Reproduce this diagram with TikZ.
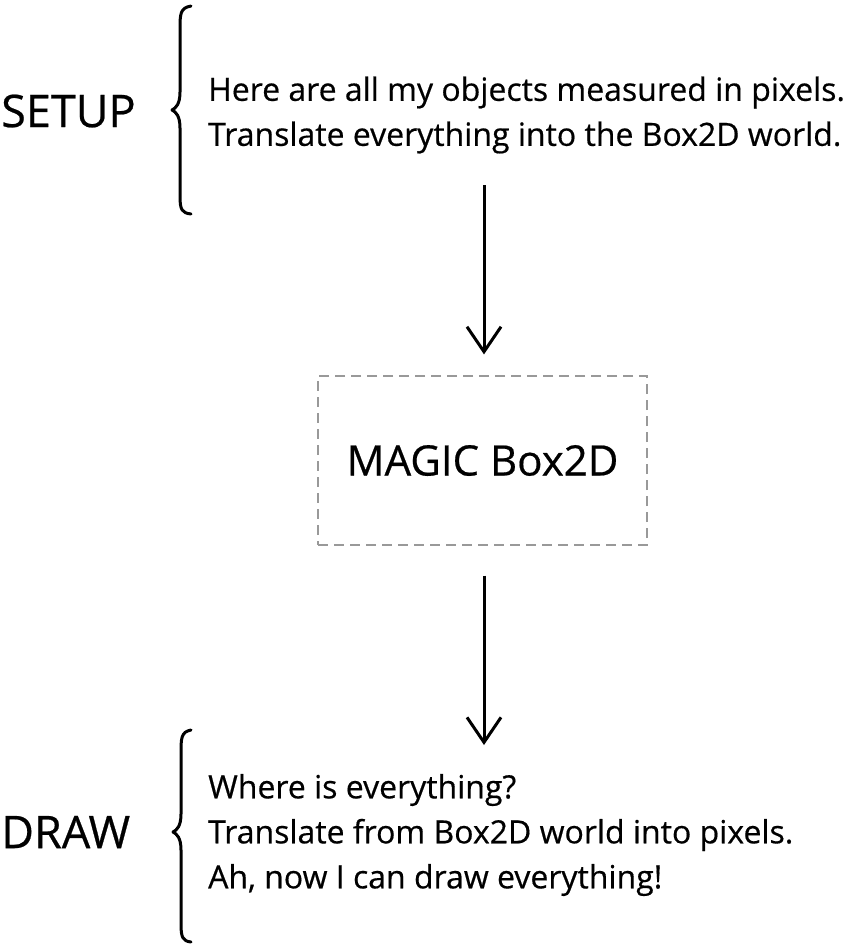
\documentclass[tikz,border=0pt]{standalone}
\usepackage{fontspec}
\setmainfont{Open Sans}[FakeBold=0.5]
\usetikzlibrary{arrows.meta}
\tikzset{
  textNode/.style = {align=left, inner sep=0pt, anchor=west},
  %section labels
  stageLabel/.style = {textNode, font=\fontsize{45}{47}\selectfont},
  %explanation lines
  noteText/.style = {textNode, font=\fontsize{32}{45}\selectfont},
  %dashed box in the middle
  magicBox/.style = {draw=black!40, dash pattern=on 10pt off 6pt, line width=1.2pt,
    minimum width=329, minimum height=169, inner sep=0pt,
    font=\fontsize{42}{44}\selectfont},
  braceLine/.style = {line width=3pt, line cap=round, line join=round},
  flowArrow/.style = {line width=3pt, -{Straight Barb[length=25pt,width=34pt,line width=3pt]}}
}
\begin{document}
\begin{tikzpicture}[x=1pt,y=-1pt]
\useasboundingbox (0,0) rectangle (863,946);
% setup part
\node [stageLabel] (setup) at (1,111) {SETUP};
\node [noteText] (setupText) at (208,115) {Here are all my objects measured in pixels.\\
  Translate everything into the Box2D world.};
\draw [braceLine] (191,6) .. controls (180,8) and (180,14) .. (180,30)
  -- (180,92) .. controls (180,104) and (176,108) .. (172,110)
  .. controls (176,112) and (180,116) .. (180,128)
  -- (180,196) .. controls (180,210) and (182,213) .. (191,214);
% magic box
\node [magicBox] (magic) at (482.5,460.5) {MAGIC Box2D};
\coordinate (arrowTop) at (484,185);
\coordinate (arrowBottom) at (484,745);
\draw [flowArrow, shorten >=21pt] (arrowTop) -- (magic.north -| arrowTop);
\draw [flowArrow, shorten <=30pt] (magic.south -| arrowBottom) -- (arrowBottom);
% draw part
\node [stageLabel] (draw) at (1,832) {DRAW};
\node [noteText] (drawText) at (208,835) {Where is everything?\\
  Translate from Box2D world into pixels.\\
  Ah, now I can draw everything!};
\draw [braceLine] (191,730) .. controls (181,732) and (181,738) .. (181,754)
  -- (181,814) .. controls (181,826) and (177,830) .. (173,832)
  .. controls (177,834) and (181,838) .. (181,850)
  -- (181,924) .. controls (181,938) and (183,941) .. (191,942);
\end{tikzpicture}
\end{document}
